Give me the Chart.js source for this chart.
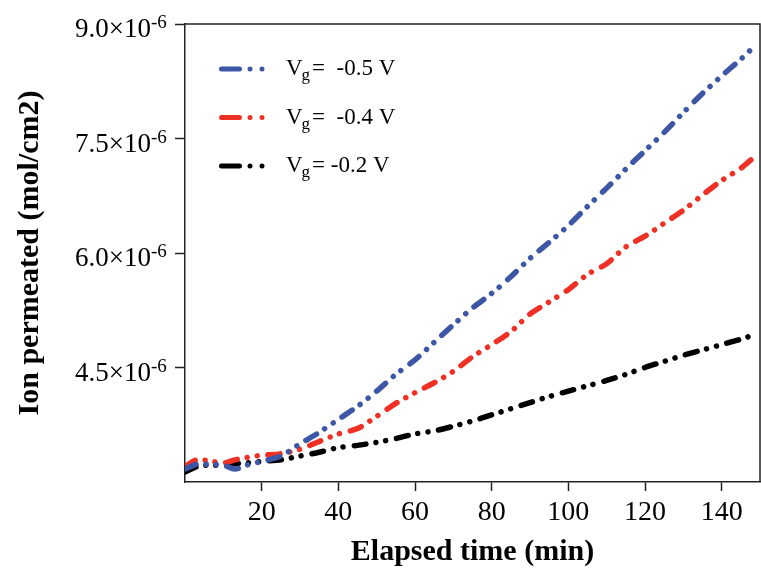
<!DOCTYPE html>
<html>
<head>
<meta charset="utf-8">
<script src="https://cdn.jsdelivr.net/npm/chart.js@4.4.0/dist/chart.umd.min.js"></script>
<style>
  html, body { margin: 0; padding: 0; background: #fff; }
</style>
</head>
<body>
<canvas id="grafico" width="761" height="572"></canvas>
<script>
// tempo (min) e ion permeated em unidades de 10^-6 mol/cm2
const tempos = [0, 3, 6, 10, 13, 16, 20, 25, 30, 35, 40, 45, 50, 55, 60, 65, 70, 75, 80, 85, 90, 95, 100, 105, 110, 115, 120, 125, 130, 135, 140, 145, 149];
const serieV05 = [3.17, 3.23, 3.23, 3.22, 3.17, 3.22, 3.27, 3.34, 3.50, 3.65, 3.82, 3.99, 4.19, 4.41, 4.60, 4.83, 5.06, 5.28, 5.47, 5.69, 5.93, 6.14, 6.36, 6.61, 6.85, 7.10, 7.34, 7.58, 7.84, 8.09, 8.32, 8.54, 8.73];
const serieV04 = [3.20, 3.29, 3.28, 3.25, 3.29, 3.32, 3.35, 3.37, 3.43, 3.53, 3.63, 3.70, 3.86, 4.03, 4.17, 4.30, 4.45, 4.64, 4.80, 4.97, 5.20, 5.36, 5.52, 5.72, 5.86, 6.08, 6.22, 6.39, 6.56, 6.76, 6.95, 7.11, 7.28];
const serieV02 = [3.13, 3.20, 3.22, 3.22, 3.24, 3.25, 3.27, 3.29, 3.34, 3.39, 3.45, 3.48, 3.52, 3.57, 3.63, 3.67, 3.73, 3.80, 3.88, 3.96, 4.04, 4.12, 4.19, 4.26, 4.33, 4.41, 4.50, 4.58, 4.66, 4.73, 4.80, 4.87, 4.94];
const ticksX = [20, 40, 60, 80, 100, 120, 140];
const ticksY = [4.5, 6.0, 7.5, 9.0];
const legendas = ["=  -0.5 V", "=  -0.4 V", "= -0.2 V"];

const cores = ["#3d56a6", "#ee3124", "#000000"];
const fonte = '"Liberation Serif", "Times New Roman", serif';
const padraoTraco = [12, 10, 0.01, 10, 0.01, 11];

function montarPontos(valores) {
  return tempos.map((t, i) => ({ x: t, y: valores[i] }));
}

const series = [serieV05, serieV04, serieV02];

// rótulos do eixo y com expoente, legenda e moldura
const extrasPlugin = {
  id: "extras",
  afterDraw(chart) {
    const { ctx, chartArea, scales } = chart;
    ctx.save();
    ctx.fillStyle = "#000";
    ctx.textBaseline = "alphabetic";
    ticksY.forEach((v) => {
      const py = scales.y.getPixelForValue(v);
      ctx.textAlign = "right";
      ctx.font = "27px " + fonte;
      ctx.fillText(v.toFixed(1) + "\u00d710", 151, py + 13);
      ctx.textAlign = "left";
      ctx.font = "19px " + fonte;
      ctx.fillText("-6", 151, py + 4);
    });

    // moldura superior e direita
    ctx.strokeStyle = "#222";
    ctx.lineWidth = 1.5;
    ctx.beginPath();
    ctx.moveTo(chartArea.left, chartArea.top);
    ctx.lineTo(chartArea.right, chartArea.top);
    ctx.lineTo(chartArea.right, chartArea.bottom);
    ctx.stroke();

    // legenda
    ctx.textAlign = "left";
    legendas.forEach((txt, i) => {
      const y = 69 + i * 48.5;
      ctx.strokeStyle = cores[i];
      ctx.lineWidth = 5;
      ctx.lineCap = "round";
      ctx.setLineDash([18, 10.5, 0.01, 12, 0.01, 100]);
      ctx.beginPath();
      ctx.moveTo(221.5, y);
      ctx.lineTo(264, y);
      ctx.stroke();
      ctx.setLineDash([]);
      ctx.font = "23px " + fonte;
      ctx.fillText("V", 286, y + 6);
      const wV = ctx.measureText("V").width;
      ctx.font = "17px " + fonte;
      ctx.fillText("g", 286 + wV - 1, y + 11);
      const wg = ctx.measureText("g").width;
      ctx.font = "23px " + fonte;
      ctx.fillText(txt, 286 + wV + wg + 1, y + 6);
    });
    ctx.restore();
  }
};

const ctx = document.getElementById("grafico").getContext("2d");

const chart = new Chart(ctx, {
  type: "line",
  data: {
    datasets: series.map((valores, i) => ({
      label: legendas[i],
      data: montarPontos(valores),
      borderColor: cores[i],
      borderWidth: 5.5,
      borderDash: padraoTraco,
      borderCapStyle: "round",
      borderJoinStyle: "round",
      pointRadius: 0,
      fill: false,
      tension: 0.3,
    })),
  },
  options: {
    responsive: false,
    animation: false,
    layout: { padding: { top: 24, right: 1, left: 10, bottom: 0 } },
    plugins: { legend: { display: false }, tooltip: { enabled: false } },
    scales: {
      x: {
        type: "linear",
        min: 0,
        max: 150,
        afterBuildTicks: (s) => { s.ticks = ticksX.map((v) => ({ value: v })); },
        afterFit: (s) => { s.height = 90; },
        grid: { drawOnChartArea: false, drawTicks: true, tickLength: 9, tickColor: "#222", tickWidth: 1.5 },
        border: { color: "#222", width: 1.5 },
        ticks: { color: "#000", font: { family: fonte, size: 28 }, padding: 5, maxRotation: 0 },
        title: {
          display: true,
          text: "Elapsed time (min)",
          color: "#000",
          font: { family: fonte, size: 30, weight: "bold" },
          padding: { top: 0, bottom: 2 },
        },
      },
      y: {
        type: "linear",
        min: 3,
        max: 9,
        afterBuildTicks: (s) => { s.ticks = ticksY.map((v) => ({ value: v })); },
        afterFit: (s) => { s.width = 175; },
        grid: { drawOnChartArea: false, drawTicks: true, tickLength: 10, tickColor: "#222", tickWidth: 1.5 },
        border: { color: "#222", width: 1.5 },
        ticks: { display: false },
        title: {
          display: true,
          text: "Ion permeated (mol/cm2)",
          color: "#000",
          font: { family: fonte, size: 30, weight: "bold" },
          padding: { top: 2, bottom: 4 },
        },
      },
    },
  },
  plugins: [extrasPlugin],
});
</script>
</body>
</html>
